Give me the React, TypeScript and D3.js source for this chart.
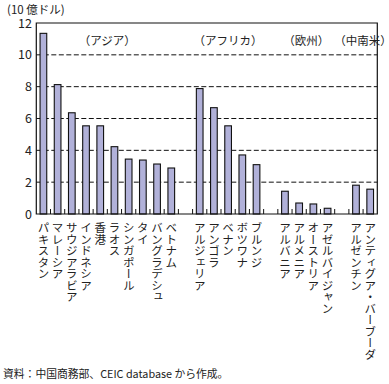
import * as d3 from 'd3';

const W = 389;
const H = 384;

// 地域ごとの国名と値（10億ドル）
const asiaNames = ['パキスタン', 'マレーシア', 'サウジアラビア', 'インドネシア', '香港', 'ラオス', 'シンガポール', 'タイ', 'バングラデシュ', 'ベトナム'];
const asiaValues = [11.35, 8.13, 6.36, 5.54, 5.54, 4.23, 3.45, 3.39, 3.14, 2.89];

const africaNames = ['アルジェリア', 'アンゴラ', 'ベナン', 'ボツワナ', 'ブルンジ'];
const africaValues = [7.88, 6.68, 5.54, 3.71, 3.1];

const europeNames = ['アルバニア', 'アルメニア', 'オーストリア', 'アゼルバイジャン'];
const europeValues = [1.43, 0.69, 0.63, 0.36];

const latamNames = ['アルゼンチン', 'アンティグア・バーブーダ'];
const latamValues = [1.81, 1.56];

const regionLabels = ['（アジア）', '（アフリカ）', '（欧州）', '（中南米）'];
const yTicks = [0, 2, 4, 6, 8, 10, 12];

const FONT = "'Noto Sans CJK JP', 'Noto Sans', sans-serif";
const BAR_FILL = '#b1b1d9';

type Slot = { key: string; name: string; value: number | null; region: number };

const groups = [
  { names: asiaNames, values: asiaValues },
  { names: africaNames, values: africaValues },
  { names: europeNames, values: europeValues },
  { names: latamNames, values: latamValues },
];

const slots: Slot[] = [];
groups.forEach((g, gi) => {
  if (gi > 0) slots.push({ key: 'gap' + gi, name: '', value: null, region: -1 });
  g.names.forEach((n, i) => slots.push({ key: n, name: n, value: g.values[i], region: gi }));
});

export default function App() {
  const left = 36.3;
  const right = 377.3;
  const top = 23;
  const bottom = 214;

  const x = d3
    .scaleBand<string>()
    .domain(slots.map((s) => s.key))
    .range([left, right])
    .paddingInner(0)
    .paddingOuter(0);

  const y = d3.scaleLinear().domain([0, 12]).range([bottom, top]);

  const bw = x.bandwidth();
  const barW = bw * 0.47;

  const regionCenter = (gi: number) => {
    const keys = slots.filter((s) => s.region === gi).map((s) => s.key);
    const a = x(keys[0])!;
    const b = x(keys[keys.length - 1])! + bw;
    return (a + b) / 2;
  };

  return (
    <svg width={W} height={H} style={{ position: 'absolute', left: 0, top: 0, background: '#fff' }} fontFamily={FONT}>
      {/* 単位 */}
      <text x={7} y={14} fontSize={11.5} fill="#222">(10 億ドル)</text>

      {/* 補助線 */}
      {yTicks.filter((t) => t > 0 && t < 12).map((t) => (
        <line key={t} x1={left} x2={right} y1={y(t)} y2={y(t)} stroke="#111" strokeWidth={1} strokeDasharray="5,2.5" />
      ))}

      {/* y目盛ラベル */}
      {yTicks.map((t) => (
        <text key={t} x={32} y={y(t) + 4.5} fontSize={12.5} textAnchor="end" fill="#222">{t}</text>
      ))}

      {/* 棒 */}
      {slots.filter((s) => s.value !== null).map((s) => (
        <rect
          key={s.key}
          x={x(s.key)! + (bw - barW) / 2}
          y={y(s.value!)}
          width={barW}
          height={bottom - y(s.value!)}
          fill={BAR_FILL}
          stroke="#111"
          strokeWidth={1.1}
        />
      ))}

      {/* 下の目盛（内向き） */}
      {slots.slice(1).map((s) => (
        <line key={'t' + s.key} x1={x(s.key)!} x2={x(s.key)!} y1={bottom} y2={bottom - 5} stroke="#111" strokeWidth={1} />
      ))}

      {/* 枠 */}
      <path d={`M${left},${bottom}V${top}H${right}V${bottom}Z`} fill="none" stroke="#111" strokeWidth={1.2} />

      {/* 地域ラベル */}
      {regionLabels.map((r, gi) => (
        <text key={r} x={regionCenter(gi)} y={45} fontSize={11.5} textAnchor="middle" fill="#222">{r}</text>
      ))}

      {/* 国名（縦書き） */}
      {slots.filter((s) => s.value !== null).map((s) => (
        <text
          key={'l' + s.key}
          x={x(s.key)! + bw / 2}
          y={222}
          fontSize={11.5}
          fill="#222"
          style={{ writingMode: 'vertical-rl' }}
        >
          {s.name}
        </text>
      ))}

      {/* 出典 */}
      <text x={3} y={378} fontSize={10.8} fill="#222">資料：中国商務部、CEIC database から作成。</text>
    </svg>
  );
}
